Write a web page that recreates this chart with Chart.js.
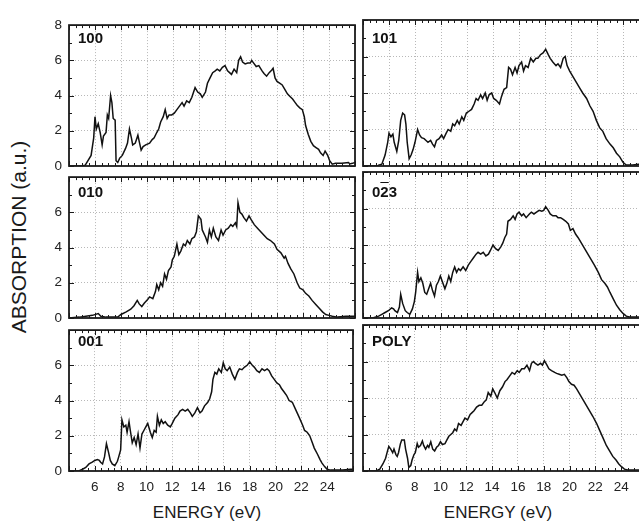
<!DOCTYPE html>
<html>
<head>
<meta charset="utf-8">
<script src="https://cdn.jsdelivr.net/npm/chart.js@4.4.0/dist/chart.umd.min.js"></script>
<style>
  html, body { margin: 0; padding: 0; background: #fff; overflow: hidden; width: 639px; height: 521px; }
  body { position: relative; font-family: "Liberation Sans", Arial, sans-serif; color: #111; }
  canvas { position: absolute; }
  .lbl { position: absolute; font-weight: bold; font-size: 15px; line-height: 1; white-space: nowrap; }
  .ttl { position: absolute; font-size: 17px; line-height: 1; white-space: nowrap; color: #1a1a1a; }
  .ovl { text-decoration: overline; }
</style>
</head>
<body>
<div class="ttl" style="left:18px;top:237px;font-size:21px;transform:translate(-50%,-50%) rotate(-90deg);">ABSORPTION (a.u.)</div>
<div class="ttl" style="left:207px;top:512px;transform:translate(-50%,-50%);">ENERGY (eV)</div>
<div class="ttl" style="left:498px;top:512px;transform:translate(-50%,-50%);">ENERGY (eV)</div>

<script>
// spectra: [energy (eV), absorption (a.u.)]
const spec100 = [[4,0],[5,0],[5.25,0.05],[5.7,0.6],[5.9,1.6],[6,2.8],[6.1,2.1],[6.25,2.4],[6.4,1.9],[6.55,1.2],[6.65,1.7],[6.85,1.9],[6.95,2.9],[7.05,2.7],[7.2,4.0],[7.3,3.6],[7.4,2.7],[7.55,2.6],[7.62,0.3],[7.75,0.2],[7.9,0.45],[8.1,0.6],[8.35,1.0],[8.5,1.3],[8.65,2.1],[8.8,1.6],[8.9,1.2],[9.1,1.3],[9.3,1.75],[9.4,1.4],[9.55,0.9],[9.7,1.1],[9.9,1.2],[10.2,1.3],[10.4,1.5],[10.55,1.6],[10.75,1.9],[10.9,2.1],[11.05,2.5],[11.25,2.8],[11.4,3.2],[11.55,2.7],[11.7,2.9],[11.9,2.9],[12.1,3.0],[12.3,3.2],[12.5,3.4],[12.7,3.6],[12.85,3.4],[13.05,3.7],[13.25,3.6],[13.45,3.9],[13.7,4.45],[13.9,4.2],[14.1,4.1],[14.25,3.9],[14.5,4.2],[14.65,4.7],[14.85,5.0],[15.05,5.3],[15.25,5.4],[15.4,5.5],[15.6,5.4],[15.8,5.6],[16,5.7],[16.2,5.4],[16.35,5.3],[16.5,5.2],[16.7,5.5],[16.9,5.3],[17.05,6.0],[17.2,6.2],[17.35,5.9],[17.55,5.8],[17.75,5.85],[17.95,5.85],[18.05,6.0],[18.25,5.8],[18.4,5.65],[18.6,5.7],[18.85,5.4],[19,5.25],[19.2,5.1],[19.4,5.3],[19.6,5.45],[19.7,5.55],[19.85,5.0],[20,4.8],[20.2,4.7],[20.4,4.6],[20.6,4.35],[20.8,4.1],[21,3.95],[21.2,3.8],[21.4,3.6],[21.55,3.45],[21.75,3.3],[21.95,3.2],[22.1,2.8],[22.2,2.3],[22.4,1.8],[22.6,1.4],[22.8,1.15],[23,1.05],[23.2,0.95],[23.35,0.75],[23.55,0.6],[23.7,0.85],[23.9,0.6],[24.05,0.3],[24.25,0.1],[24.5,0.15],[25,0.15],[25.5,0.2],[25.6,0.12],[25.8,0.15],[26,0.2]];

const spec101 = [[4,0],[5.1,0],[5.2,0.05],[5.45,0.1],[5.7,0.6],[5.9,1.3],[6,1.8],[6.15,1.6],[6.3,1.75],[6.4,1.3],[6.6,0.8],[6.75,1.4],[6.9,2.5],[7.05,2.9],[7.2,2.8],[7.3,2.3],[7.4,1.3],[7.55,0.4],[7.7,0.6],[7.85,0.9],[8,1.3],[8.2,2.0],[8.35,1.7],[8.5,1.55],[8.7,1.5],[8.85,1.4],[9,1.3],[9.2,1.4],[9.35,1.2],[9.5,1.05],[9.65,1.4],[9.85,1.5],[10.05,1.7],[10.2,1.5],[10.4,1.8],[10.55,2.0],[10.75,1.9],[10.9,2.3],[11.05,2.2],[11.25,2.5],[11.4,2.3],[11.6,2.7],[11.75,2.5],[11.95,2.9],[12.15,3.0],[12.35,3.1],[12.55,3.4],[12.7,3.7],[12.85,3.6],[13.05,3.9],[13.2,3.7],[13.4,4.0],[13.55,3.6],[13.7,3.9],[13.9,4.0],[14.05,3.7],[14.25,3.6],[14.5,3.4],[14.65,3.8],[14.85,4.2],[15.05,4.3],[15.2,5.4],[15.35,5.3],[15.5,5.0],[15.7,5.4],[15.85,5.1],[16,5.5],[16.2,5.7],[16.35,5.2],[16.5,5.5],[16.7,5.4],[16.9,5.9],[17.1,5.7],[17.3,5.9],[17.45,5.9],[17.65,6.1],[17.85,6.2],[18.05,6.4],[18.25,6.1],[18.4,5.9],[18.6,5.7],[18.85,5.5],[19,5.6],[19.2,5.4],[19.4,5.9],[19.55,6.0],[19.7,5.5],[19.9,5.2],[20.15,4.9],[20.4,4.6],[20.65,4.3],[20.9,4.0],[21.2,3.7],[21.45,3.3],[21.7,3.0],[21.95,2.5],[22.2,2.1],[22.45,1.9],[22.7,1.5],[23,1.2],[23.25,1.0],[23.5,0.7],[23.75,0.5],[24,0.2],[24.25,0.05],[24.75,0.05],[25.2,0.1],[26,0.1]];

const spec010 = [[4,0],[4.8,0.05],[5.3,0.1],[5.8,0.15],[6.25,0.25],[6.45,0.1],[6.85,0.05],[7.35,0.05],[7.75,0.05],[8,0.2],[8.4,0.35],[8.75,0.5],[9,0.7],[9.25,1.0],[9.4,0.8],[9.6,0.65],[9.8,0.85],[10.05,1.05],[10.2,1.2],[10.45,1.1],[10.65,1.5],[10.75,1.9],[10.9,1.6],[11.05,2.0],[11.2,1.8],[11.35,2.5],[11.5,2.2],[11.65,2.7],[11.85,2.9],[11.95,3.3],[12.1,3.5],[12.3,4.2],[12.45,3.6],[12.6,3.8],[12.8,4.2],[12.95,4.1],[13.1,4.4],[13.3,4.2],[13.45,4.5],[13.65,4.6],[13.8,4.9],[13.95,5.8],[14.15,5.6],[14.25,5.0],[14.5,4.6],[14.65,4.3],[14.8,5.0],[14.95,4.6],[15.1,5.1],[15.3,4.6],[15.5,4.4],[15.7,5.0],[15.85,4.7],[16.05,5.0],[16.25,5.1],[16.45,5.3],[16.6,5.2],[16.8,5.4],[16.9,5.2],[17,6.55],[17.15,6.0],[17.3,5.9],[17.45,5.7],[17.65,5.5],[17.85,5.8],[18,5.6],[18.25,5.3],[18.5,5.1],[18.75,4.9],[19,4.7],[19.25,4.5],[19.5,4.4],[19.8,4.2],[20,3.9],[20.3,3.7],[20.55,3.4],[20.65,3.5],[20.85,3.1],[21.05,2.8],[21.3,2.5],[21.55,2.0],[21.75,1.7],[22,1.6],[22.2,1.4],[22.45,1.25],[22.7,1.0],[23,0.75],[23.25,0.55],[23.5,0.35],[23.75,0.2],[24,0.15],[24.25,0.1],[24.65,0.05],[25.3,0.1],[26,0.1]];

const spec023 = [[4,0],[4.8,0.02],[5.2,0.1],[5.45,0.2],[5.7,0.3],[5.95,0.4],[6.2,0.55],[6.35,0.5],[6.45,0.4],[6.65,0.3],[6.8,0.6],[6.9,1.3],[7.05,0.8],[7.25,0.4],[7.4,0.3],[7.6,0.2],[7.8,0.5],[7.95,0.9],[8.05,1.4],[8.2,2.5],[8.3,2.0],[8.45,2.2],[8.6,1.9],[8.75,1.4],[8.9,1.3],[9.05,1.6],[9.2,1.9],[9.35,1.5],[9.5,1.2],[9.65,1.8],[9.8,2.0],[9.95,2.3],[10.1,2.0],[10.3,1.6],[10.45,1.9],[10.6,2.3],[10.75,2.0],[10.9,2.5],[11.05,2.8],[11.2,2.5],[11.35,2.7],[11.5,2.6],[11.7,2.8],[11.9,2.6],[12.1,2.9],[12.3,3.1],[12.5,3.3],[12.7,3.5],[12.85,3.6],[13.05,3.5],[13.25,3.6],[13.45,3.4],[13.65,3.5],[13.8,3.7],[14,4.0],[14.2,3.8],[14.4,3.7],[14.6,3.9],[14.75,4.1],[14.9,4.4],[15.05,4.6],[15.15,5.3],[15.35,5.4],[15.55,5.6],[15.7,5.4],[15.85,5.7],[16,5.8],[16.2,5.6],[16.35,5.7],[16.55,5.5],[16.8,5.7],[16.95,5.8],[17.15,5.7],[17.35,5.8],[17.55,5.9],[17.75,5.85],[17.9,5.9],[18.05,6.1],[18.25,5.9],[18.4,5.7],[18.6,5.6],[18.85,5.6],[19,5.5],[19.2,5.5],[19.4,5.4],[19.6,5.3],[19.8,5.15],[19.95,4.8],[20.15,4.9],[20.35,4.6],[20.55,4.4],[20.8,4.1],[21.05,3.8],[21.3,3.5],[21.55,3.2],[21.8,2.9],[22.1,2.5],[22.35,2.1],[22.6,1.9],[22.8,1.7],[23,1.4],[23.25,1.05],[23.5,0.7],[23.75,0.45],[24,0.25],[24.25,0.1],[24.5,0.05],[25.2,0.05],[26,0.05]];

const spec001 = [[4,0],[4.8,0.02],[5.05,0.1],[5.3,0.2],[5.55,0.4],[5.8,0.5],[6,0.6],[6.2,0.65],[6.35,0.6],[6.45,0.5],[6.6,0.4],[6.75,0.8],[6.9,1.55],[7.05,1.1],[7.2,0.6],[7.35,0.4],[7.55,0.3],[7.75,0.55],[7.85,0.8],[8,1.2],[8.1,2.9],[8.25,2.5],[8.4,2.6],[8.5,2.2],[8.65,2.8],[8.75,2.3],[8.9,1.6],[9.05,1.9],[9.2,1.5],[9.35,2.1],[9.5,1.3],[9.65,2.1],[9.8,2.3],[9.95,2.5],[10.1,2.7],[10.3,2.2],[10.45,1.9],[10.6,2.3],[10.75,2.2],[10.85,3.1],[11,2.6],[11.15,2.9],[11.3,2.7],[11.45,2.8],[11.65,2.6],[11.85,2.5],[12,2.7],[12.2,3.0],[12.45,3.2],[12.6,3.4],[12.8,3.5],[13,3.4],[13.2,3.5],[13.4,3.3],[13.55,3.1],[13.75,3.3],[13.95,3.6],[14.15,3.3],[14.3,3.4],[14.5,3.7],[14.75,3.9],[14.9,4.1],[15.05,4.5],[15.15,5.2],[15.3,5.6],[15.45,5.5],[15.6,5.8],[15.8,5.6],[15.95,6.15],[16.1,5.8],[16.25,5.7],[16.45,5.9],[16.65,5.5],[16.85,5.2],[17.05,5.6],[17.2,5.8],[17.4,5.75],[17.6,5.9],[17.8,6.0],[18,6.2],[18.2,6.0],[18.35,5.9],[18.55,5.7],[18.75,5.6],[18.95,5.8],[19.15,5.7],[19.35,5.8],[19.5,5.7],[19.7,5.4],[19.9,5.2],[20.1,5.0],[20.3,4.9],[20.45,4.7],[20.65,4.5],[20.85,4.3],[21.05,4.0],[21.3,3.9],[21.55,3.5],[21.8,3.1],[22.1,2.6],[22.25,2.3],[22.45,2.2],[22.65,2.0],[22.85,1.6],[23,1.3],[23.25,0.95],[23.45,0.65],[23.6,0.45],[23.8,0.25],[24,0.1],[24.25,0.05],[25.2,0.05],[25.8,0.1],[26,0.1]];

const specPoly = [[4,0],[5.05,0.02],[5.3,0.1],[5.55,0.4],[5.75,0.7],[5.9,1.1],[6,1.35],[6.15,1.2],[6.3,1.0],[6.4,1.2],[6.55,0.9],[6.65,0.8],[6.75,1.0],[6.9,1.5],[7,1.7],[7.2,1.7],[7.3,1.2],[7.45,0.7],[7.55,0.2],[7.7,0.3],[7.8,0.6],[7.95,0.9],[8.05,1.0],[8.2,1.5],[8.3,1.3],[8.45,1.4],[8.6,1.65],[8.7,1.4],[8.85,1.2],[9,1.4],[9.1,1.3],[9.25,1.6],[9.4,1.2],[9.55,1.1],[9.7,1.3],[9.85,1.4],[10,1.6],[10.15,1.45],[10.35,1.5],[10.5,1.7],[10.65,1.9],[10.8,2.0],[10.95,2.1],[11.1,2.3],[11.25,2.2],[11.4,2.6],[11.6,2.5],[11.75,2.7],[11.9,2.9],[12.1,2.8],[12.3,3.1],[12.45,3.2],[12.6,3.3],[12.8,3.5],[13,3.6],[13.2,3.6],[13.4,3.8],[13.55,3.9],[13.7,4.3],[13.9,4.1],[14.05,4.5],[14.2,4.3],[14.4,4.0],[14.6,4.4],[14.8,4.6],[15,4.9],[15.15,5.0],[15.35,5.2],[15.55,5.4],[15.75,5.3],[15.95,5.5],[16.1,5.4],[16.3,5.6],[16.5,5.6],[16.7,5.8],[16.9,5.5],[17.05,5.9],[17.2,6.0],[17.35,5.9],[17.55,5.8],[17.75,5.9],[17.9,5.8],[18.05,6.05],[18.25,5.8],[18.4,5.6],[18.6,5.5],[18.85,5.4],[19,5.35],[19.2,5.3],[19.4,5.25],[19.6,5.3],[19.8,5.1],[19.95,4.9],[20.15,4.75],[20.35,4.7],[20.55,4.5],[20.8,4.2],[21.05,3.9],[21.3,3.6],[21.55,3.3],[21.8,3.0],[22.1,2.6],[22.35,2.2],[22.6,1.8],[22.85,1.4],[23.1,1.1],[23.35,0.8],[23.6,0.6],[23.8,0.4],[24,0.25],[24.25,0.1],[24.5,0.05],[25.2,0.05],[26,0.05]];

const xRange = [4, 26];
const yRange = [0, 8];
const xTickLabels = [6, 8, 10, 12, 14, 16, 18, 20, 22, 24];
const yTickLabels = [0, 2, 4, 6, 8];

const panels = [
  { name: '100', html: '100', data: spec100, col: 0, row: 0 },
  { name: '101', html: '101', data: spec101, col: 1, row: 0 },
  { name: '010', html: '010', data: spec010, col: 0, row: 1 },
  { name: '023', html: '0<span class="ovl">2</span>3', data: spec023, col: 1, row: 1 },
  { name: '001', html: '001', data: spec001, col: 0, row: 2 },
  { name: 'POLY', html: 'POLY', data: specPoly, col: 1, row: 2 }
];

// page geometry of the plot areas
const colLeft = [69, 363];
const rowTop = [20, 172, 325];
const labelTop = [30, 184, 333];
const plotW = 286, plotH = 146;
const padL = 40, padT = 10, padR = 6, padB = 30;
const FONT = '"Liberation Sans", Arial, sans-serif';

// inward ticks on all four sides + solid frame
const frameTicks = {
  id: 'frameTicks',
  afterDatasetsDraw(chart) {
    const { ctx, chartArea: a, scales: { x, y } } = chart;
    ctx.save();
    ctx.strokeStyle = '#1a1a1a';
    ctx.lineWidth = 1;
    ctx.beginPath();
    for (let v = xRange[0]; v <= xRange[1]; v += 0.5) {
      const px = Math.round(x.getPixelForValue(v)) + 0.5;
      const len = v % 2 === 0 ? 5 : 3;
      ctx.moveTo(px, a.bottom); ctx.lineTo(px, a.bottom - len);
      ctx.moveTo(px, a.top); ctx.lineTo(px, a.top + len);
    }
    for (let v = yRange[0]; v <= yRange[1]; v += 1) {
      const py = Math.round(y.getPixelForValue(v)) + 0.5;
      const len = v % 2 === 0 ? 5 : 3;
      ctx.moveTo(a.left, py); ctx.lineTo(a.left + len, py);
      ctx.moveTo(a.right, py); ctx.lineTo(a.right - len, py);
    }
    ctx.stroke();
    ctx.lineWidth = 1.8;
    ctx.strokeRect(a.left, a.top, a.right - a.left, a.bottom - a.top);
    ctx.restore();
  }
};

const gridColor = (vals) => (c) => (c.tick && vals.includes(c.tick.value)) ? '#b8b8b8' : 'rgba(0,0,0,0)';

panels.forEach(p => {
  const cv = document.createElement('canvas');
  cv.width = padL + plotW + padR;
  cv.height = padT + plotH + padB;
  cv.style.left = (colLeft[p.col] - padL) + 'px';
  cv.style.top = (rowTop[p.row] - padT) + 'px';
  document.body.appendChild(cv);

  const lbl = document.createElement('div');
  lbl.className = 'lbl';
  lbl.innerHTML = p.html;
  lbl.style.left = (colLeft[p.col] + 9) + 'px';
  lbl.style.top = labelTop[p.row] + 'px';
  document.body.appendChild(lbl);

  new Chart(cv, {
    type: 'line',
    data: {
      datasets: [{
        label: p.name,
        data: p.data.map(([e, v]) => ({ x: e, y: v })),
        borderColor: '#111',
        borderWidth: 1.5,
        pointRadius: 0,
        tension: 0,
        fill: false
      }]
    },
    options: {
      responsive: false,
      animation: false,
      devicePixelRatio: 1,
      layout: { padding: { top: padT, right: padR, left: 0, bottom: 0 } },
      plugins: { legend: { display: false }, tooltip: { enabled: false } },
      scales: {
        x: {
          type: 'linear',
          min: xRange[0], max: xRange[1],
          ticks: {
            display: p.row === 2,
            stepSize: 2, autoSkip: false, maxRotation: 0, padding: 8,
            color: '#222', font: { family: FONT, size: 13.5 },
            callback: v => xTickLabels.includes(v) ? String(v) : ''
          },
          grid: { drawTicks: false, lineWidth: 1, color: gridColor(xTickLabels) },
          border: { display: false, dash: [1, 2] },
          afterFit: s => { s.height = padB; }
        },
        y: {
          min: yRange[0], max: yRange[1],
          ticks: {
            display: p.col === 0,
            stepSize: 2, padding: 7,
            color: '#222', font: { family: FONT, size: 13.5 },
            callback: v => (yTickLabels.includes(v) && !(v === 8 && p.row > 0)) ? String(v) : ''
          },
          grid: { drawTicks: false, lineWidth: 1, color: gridColor([2, 4, 6]) },
          border: { display: false, dash: [1, 2] },
          afterFit: s => { s.width = padL; }
        }
      }
    },
    plugins: [frameTicks]
  });
});
</script>
</body>
</html>
